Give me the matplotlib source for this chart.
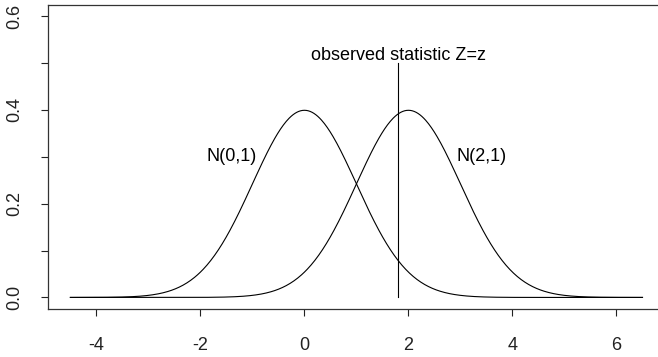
import numpy as np
import matplotlib.pyplot as plt

plt.rcParams['font.family'] = ['Liberation Sans', 'DejaVu Sans']

# Two normal densities and the observed statistic
means = [0, 2]
sd = 1
curve_labels = ['N(0,1)', 'N(2,1)']
label_x = [-1.4, 3.4]
label_y = [0.3, 0.3]
z_obs = 1.8
z_top = 0.5
z_text = 'observed statistic Z=z'

x = np.linspace(-4.5, 6.5, 600)

fig = plt.figure(figsize=(6.58, 3.57), dpi=100)
ax = fig.add_axes([0.0722, 0.1353, 0.939, 0.8515])

for m in means:
    dens = np.exp(-0.5 * ((x - m) / sd) ** 2) / (sd * np.sqrt(2 * np.pi))
    ax.plot(x, dens, color='black', lw=0.8)

ax.plot([z_obs, z_obs], [0, z_top], color='black', lw=0.8)
ax.text(z_obs, 0.516, z_text, ha='center', va='center', fontsize=13)
for lab, lx, ly in zip(curve_labels, label_x, label_y):
    ax.text(lx, ly, lab, ha='center', va='center', fontsize=13)

ax.set_xlim(-4.94, 6.94)
ax.set_ylim(-0.024, 0.624)
ax.set_xticks([-4, -2, 0, 2, 4, 6])
ax.set_xticklabels(['-4', '-2', '0', '2', '4', '6'])
yt = [0.0, 0.1, 0.2, 0.3, 0.4, 0.5, 0.6]
ax.set_yticks(yt)
ax.set_yticklabels(['0.0', '', '0.2', '', '0.4', '', '0.6'], rotation=90, va='center')
ax.tick_params(axis='x', length=4.7, width=0.8, pad=15.5, labelsize=13, colors='#222222')
ax.tick_params(axis='y', length=4.7, width=0.8, pad=13, labelsize=13, colors='#222222')
for s in ax.spines.values():
    s.set_linewidth(0.9)
    s.set_color('#333333')

fig.savefig('out.png', dpi=100)
